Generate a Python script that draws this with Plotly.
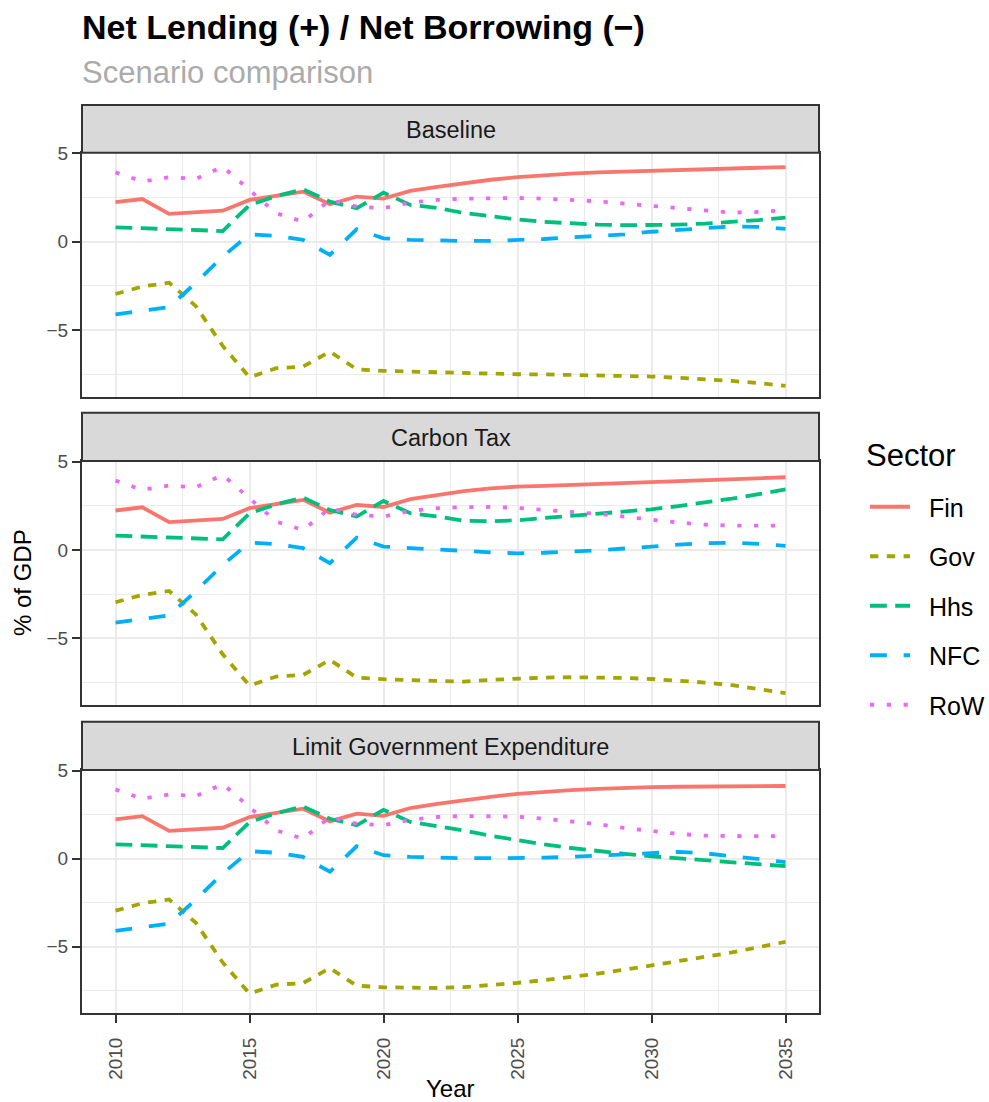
import plotly.graph_objects as go

# ---------------- data ----------------
years = list(range(2010, 2036))
scenarios = ["Baseline", "Carbon Tax", "Limit Government Expenditure"]
sectors = ["Fin", "Gov", "Hhs", "NFC", "RoW"]

# history 2010-2021 (shared by all scenarios)
fin_hist = [2.23, 2.41, 1.57, 1.67, 1.75, 2.36, 2.58, 2.83, 2.11, 2.55, 2.43, 2.87]
gov_hist = [-2.96, -2.54, -2.32, -3.65, -5.90, -7.67, -7.16, -7.07, -6.22, -7.22, -7.31, -7.35]
hhs_hist = [0.81, 0.76, 0.70, 0.66, 0.60, 2.07, 2.58, 2.96, 2.26, 1.89, 2.77, 2.08]
nfc_hist = [-4.11, -3.90, -3.70, -2.33, -0.85, 0.42, 0.33, 0.10, -0.75, 0.70, 0.19, 0.10]
row_hist = [3.92, 3.40, 3.64, 3.55, 4.24, 2.92, 1.60, 1.13, 2.36, 1.98, 1.89, 2.21]

# projections 2022-2035
fin_base = [3.10, 3.32, 3.50, 3.65, 3.76, 3.85, 3.92, 3.97, 4.02, 4.06, 4.10, 4.14, 4.18, 4.21]
gov_base = [-7.40, -7.45, -7.48, -7.50, -7.51, -7.53, -7.55, -7.58, -7.63, -7.70, -7.78, -7.88, -8.00, -8.16]
hhs_base = [1.90, 1.62, 1.42, 1.25, 1.12, 1.02, 0.96, 0.93, 0.93, 0.96, 1.02, 1.10, 1.22, 1.36]
nfc_base = [0.05, 0.04, 0.04, 0.07, 0.15, 0.24, 0.31, 0.41, 0.56, 0.68, 0.76, 0.86, 0.84, 0.72]
row_base = [2.36, 2.43, 2.46, 2.47, 2.43, 2.37, 2.28, 2.15, 2.02, 1.88, 1.72, 1.64, 1.68, 1.78]

fin_ctax = [3.10, 3.32, 3.48, 3.58, 3.62, 3.67, 3.72, 3.79, 3.86, 3.91, 3.96, 4.01, 4.06, 4.11]
gov_ctax = [-7.40, -7.45, -7.35, -7.27, -7.22, -7.20, -7.20, -7.24, -7.30, -7.38, -7.50, -7.65, -7.85, -8.10]
hhs_ctax = [1.90, 1.65, 1.62, 1.68, 1.80, 1.92, 2.03, 2.15, 2.30, 2.48, 2.68, 2.90, 3.15, 3.43]
nfc_ctax = [0.05, -0.05, -0.14, -0.19, -0.16, -0.10, -0.02, 0.08, 0.20, 0.30, 0.38, 0.41, 0.34, 0.23]
row_ctax = [2.36, 2.42, 2.43, 2.38, 2.28, 2.17, 2.04, 1.88, 1.71, 1.55, 1.43, 1.37, 1.37, 1.38]

fin_lge = [3.10, 3.32, 3.50, 3.68, 3.80, 3.89, 3.96, 4.02, 4.06, 4.08, 4.10, 4.11, 4.12, 4.12]
gov_lge = [-7.35, -7.30, -7.20, -7.06, -6.90, -6.74, -6.53, -6.31, -6.08, -5.83, -5.58, -5.33, -5.05, -4.73]
hhs_lge = [1.85, 1.60, 1.30, 1.03, 0.80, 0.60, 0.42, 0.27, 0.13, 0.02, -0.08, -0.17, -0.28, -0.43]
nfc_lge = [0.05, 0.02, 0.02, 0.02, 0.05, 0.10, 0.18, 0.27, 0.35, 0.38, 0.30, 0.15, 0.00, -0.20]
row_lge = [2.36, 2.42, 2.42, 2.38, 2.27, 2.13, 1.95, 1.74, 1.55, 1.40, 1.30, 1.27, 1.27, 1.27]

x_tick_vals = [2010, 2015, 2020, 2025, 2030, 2035]
y_tick_vals = [-5, 0, 5]

hist = {"Fin": fin_hist, "Gov": gov_hist, "Hhs": hhs_hist, "NFC": nfc_hist, "RoW": row_hist}
proj = {
    "Baseline": {"Fin": fin_base, "Gov": gov_base, "Hhs": hhs_base, "NFC": nfc_base, "RoW": row_base},
    "Carbon Tax": {"Fin": fin_ctax, "Gov": gov_ctax, "Hhs": hhs_ctax, "NFC": nfc_ctax, "RoW": row_ctax},
    "Limit Government Expenditure": {"Fin": fin_lge, "Gov": gov_lge, "Hhs": hhs_lge, "NFC": nfc_lge, "RoW": row_lge},
}

# ---------------- styles ----------------
colors = {"Fin": "#F8766D", "Gov": "#A3A500", "Hhs": "#00BF7D", "NFC": "#00B0F6", "RoW": "#E76BF3"}
U = 4.2
dashes = {
    "Fin": "solid",
    "Gov": f"{2*U}px,{2*U}px",
    "Hhs": f"{4*U}px,{2*U}px",
    "NFC": f"{4*U}px,{4*U}px",
    "RoW": f"{1*U}px,{3*U}px",
}
LW = 3.8
FONT = "Liberation Sans, Arial, sans-serif"
NB = "\u00a0\u00a0"  # small gap between legend key and label

W, H = 989, 1102
ML, MR, MT, MB = 82, 170, 105, 89
PW = W - ML - MR
PH = H - MT - MB


def fy(ypx):
    return (H - MB - ypx) / PH


def fx(xpx):
    return (xpx - ML) / PW


# (plot top, plot bottom, strip top) in pixels
panels = [(152.7, 396.7, 105.0), (461.0, 705.0, 412.7), (770.0, 1013.0, 721.7)]

fig = go.Figure()
layout = {}
shapes = []
annotations = []

for i, scen in enumerate(scenarios):
    k = "" if i == 0 else str(i + 1)
    for s in sectors:
        fig.add_trace(go.Scatter(
            x=years, y=hist[s] + proj[scen][s],
            xaxis="x" + k, yaxis="y" + k,
            mode="lines", name=NB + s, legendgroup=s, showlegend=(i == 0),
            line=dict(color=colors[s], width=LW, dash=dashes[s]),
            hoverinfo="skip",
        ))
    top, bot, stop = panels[i]
    bottom = (i == len(scenarios) - 1)
    layout["xaxis" + k] = dict(
        domain=[0, 1], anchor="y" + k, range=[2008.75, 2036.25],
        tickvals=x_tick_vals, showticklabels=bottom,
        ticks="outside" if bottom else "", ticklen=8, tickwidth=2, tickcolor="#333333",
        ticklabelstandoff=7,
        tickangle=-90, tickfont=dict(family=FONT, size=19, color="#4D4D4D"),
        showgrid=True, gridcolor="#EBEBEB", gridwidth=1.6,
        minor=dict(tickvals=[2012.5, 2017.5, 2022.5, 2027.5, 2032.5],
                   showgrid=True, gridcolor="#EBEBEB", gridwidth=0.8, ticks=""),
        showline=True, mirror=True, linecolor="#333333", linewidth=2,
        zeroline=False, fixedrange=True,
    )
    layout["yaxis" + k] = dict(
        domain=[fy(bot), fy(top)], anchor="x" + k, range=[-8.77, 5.03],
        tickvals=y_tick_vals,
        ticks="outside", ticklen=8, tickwidth=2, tickcolor="#333333",
        tickfont=dict(family=FONT, size=19, color="#4D4D4D"),
        showgrid=True, gridcolor="#EBEBEB", gridwidth=1.6,
        minor=dict(tickvals=[-7.5, -2.5, 2.5], showgrid=True,
                   gridcolor="#EBEBEB", gridwidth=0.8, ticks=""),
        showline=True, mirror=True, linecolor="#333333", linewidth=2,
        zeroline=False, fixedrange=True,
    )
    shapes.append(dict(type="rect", xref="paper", yref="paper",
                       x0=0, x1=1, y0=fy(top), y1=fy(stop),
                       fillcolor="#D9D9D9", line=dict(color="#333333", width=2),
                       layer="above"))
    annotations.append(dict(text=scen, xref="paper", yref="paper",
                            x=0.5, y=fy((top + stop) / 2 + 1), xanchor="center", yanchor="middle",
                            showarrow=False, font=dict(family=FONT, size=23.5, color="#1A1A1A")))

annotations += [
    dict(text="<b>Net Lending (+) / Net Borrowing (\u2212)</b>", xref="paper", yref="paper",
         x=fx(80), y=fy(27), xanchor="left", yanchor="middle", showarrow=False,
         font=dict(family=FONT, size=34, color="#000000")),
    dict(text="Scenario comparison", xref="paper", yref="paper",
         x=fx(80), y=fy(73), xanchor="left", yanchor="middle", showarrow=False,
         font=dict(family=FONT, size=31, color="#ABABAB")),
    dict(text="Year", xref="paper", yref="paper",
         x=0.5, y=fy(1088), xanchor="center", yanchor="middle", showarrow=False,
         font=dict(family=FONT, size=24, color="#000000")),
    dict(text="% of GDP", xref="paper", yref="paper", textangle=-90,
         x=fx(22), y=fy(583), xanchor="center", yanchor="middle", showarrow=False,
         font=dict(family=FONT, size=24, color="#000000")),
    dict(text="Sector", xref="paper", yref="paper",
         x=fx(864), y=fy(456), xanchor="left", yanchor="middle", showarrow=False,
         font=dict(family=FONT, size=31, color="#000000")),
]

fig.update_layout(
    width=W, height=H,
    margin=dict(l=ML, r=MR, t=MT, b=MB, autoexpand=False),
    paper_bgcolor="white", plot_bgcolor="white",
    shapes=shapes, annotations=annotations,
    showlegend=True, hovermode=False,
    legend=dict(
        x=fx(865), y=fy(484), xanchor="left", yanchor="top",
        font=dict(family=FONT, size=25, color="#000000"),
        itemwidth=40,
        tracegroupgap=14, traceorder="grouped", bgcolor="rgba(0,0,0,0)",
    ),
    **layout,
)

fig.write_html("out.html", config={"displayModeBar": False},
               post_script="document.body.style.margin='0px';")
